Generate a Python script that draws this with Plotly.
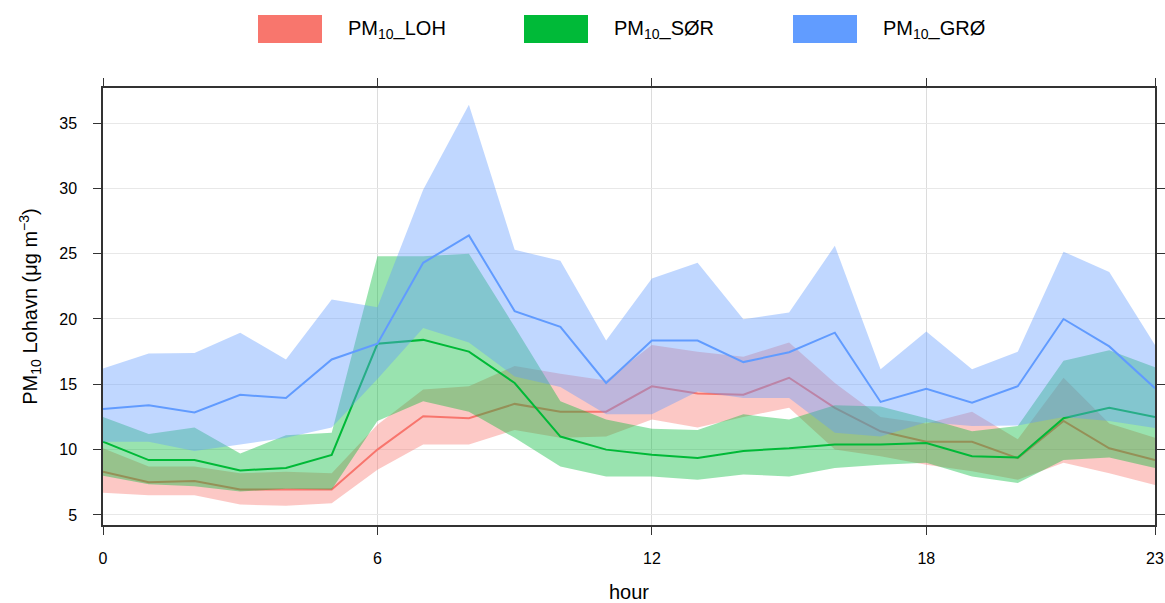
import plotly.graph_objects as go

# Hour of day
hours = list(range(24))

# PM10 at Lohavn: mean with lower/upper confidence limits
loh_mean = [8.3, 7.5, 7.6, 6.95, 6.95, 6.95, 10.0, 12.55, 12.4, 13.5, 12.9, 12.9,
            14.85, 14.3, 14.2, 15.5, 13.2, 11.4, 10.6, 10.6, 9.35, 12.2, 10.1, 9.2]
loh_upper = [10.1, 8.7, 8.7, 8.2, 8.3, 8.2, 11.9, 14.6, 14.85, 16.4, 15.8, 15.3,
             18.0, 17.5, 17.1, 18.2, 15.1, 12.5, 12.0, 12.9, 10.8, 15.5, 12.0, 10.9]
loh_lower = [6.7, 6.5, 6.5, 5.8, 5.7, 5.9, 8.45, 10.4, 10.4, 11.5, 10.9, 11.0,
             12.3, 11.7, 12.5, 13.2, 10.0, 9.5, 8.85, 8.35, 7.7, 9.0, 8.2, 7.3]

# PM10 at SØR
sor_mean = [10.6, 9.2, 9.2, 8.4, 8.6, 9.6, 18.1, 18.4, 17.5, 15.1, 11.0, 10.0,
            9.6, 9.35, 9.9, 10.1, 10.4, 10.4, 10.5, 9.5, 9.4, 12.4, 13.2, 12.5]
sor_upper = [12.5, 11.2, 11.7, 9.7, 11.1, 11.3, 24.8, 24.8, 25.0, 19.4, 13.7, 12.3,
             11.6, 11.5, 12.7, 12.3, 13.4, 13.3, 12.4, 11.4, 11.8, 16.8, 17.6, 16.3]
sor_lower = [8.0, 7.35, 7.2, 6.8, 7.0, 6.95, 12.2, 13.7, 12.9, 10.9, 8.7, 7.95,
             7.95, 7.7, 8.1, 7.95, 8.6, 8.85, 9.0, 7.95, 7.45, 9.2, 9.4, 8.6]

# PM10 at GRØ
gro_mean = [13.1, 13.4, 12.85, 14.2, 13.95, 16.9, 18.1, 24.3, 26.4, 20.6, 19.4, 15.1,
            18.35, 18.35, 16.7, 17.45, 18.95, 13.65, 14.65, 13.6, 14.85, 20.0, 17.9, 14.7]
gro_upper = [16.2, 17.35, 17.4, 18.95, 16.9, 21.5, 20.9, 29.9, 36.4, 25.3, 24.45, 18.35,
             23.1, 24.3, 19.97, 20.5, 25.6, 16.15, 19.05, 16.15, 17.5, 25.15, 23.6, 18.0]
gro_lower = [10.6, 10.6, 9.9, 10.4, 10.9, 11.7, 15.4, 19.3, 18.2, 15.6, 14.8, 12.7,
             12.7, 14.45, 13.95, 13.95, 11.3, 11.0, 12.1, 11.8, 11.85, 12.5, 12.2, 11.65]

series_names = ["PM<sub>10</sub>_LOH", "PM<sub>10</sub>_SØR", "PM<sub>10</sub>_GRØ"]
series_colors = ["#F8766D", "#00BA38", "#619CFF"]
band_colors = ["rgba(248,118,109,0.4)", "rgba(0,186,56,0.4)", "rgba(97,156,255,0.4)"]

x_ticks = [0, 6, 12, 18, 23]
y_ticks = [5, 10, 15, 20, 25, 30, 35]

FONT = "Liberation Sans, Arial"

fig = go.Figure()

series = [
    (loh_mean, loh_lower, loh_upper),
    (sor_mean, sor_lower, sor_upper),
    (gro_mean, gro_lower, gro_upper),
]

for (mean, lower, upper), col, band in zip(series, series_colors, band_colors):
    fig.add_trace(go.Scatter(
        x=hours, y=mean, mode="lines",
        line=dict(color=col, width=2),
        hoverinfo="skip", showlegend=False,
    ))
    fig.add_trace(go.Scatter(
        x=hours + hours[::-1], y=upper + lower[::-1],
        mode="none", fill="toself", fillcolor=band,
        hoverinfo="skip", showlegend=False,
    ))

# Plot-area geometry in pixels; the legend keys are placed relative to it
PLOT_L, PLOT_W, PLOT_T, PLOT_H = 103, 1052, 88, 437
PLOT_B = PLOT_T + PLOT_H

legend_x = [258, 524, 793]
for lx, col, name in zip(legend_x, series_colors, series_names):
    fig.add_shape(type="rect", xref="paper", yref="paper",
                  x0=(lx - PLOT_L) / PLOT_W, x1=(lx + 64 - PLOT_L) / PLOT_W,
                  y0=(PLOT_B - 43) / PLOT_H, y1=(PLOT_B - 15) / PLOT_H,
                  fillcolor=col, line=dict(width=0))
    fig.add_annotation(xref="paper", yref="paper",
                       x=(lx + 88 - PLOT_L) / PLOT_W, y=(PLOT_B - 29) / PLOT_H,
                       text=name, showarrow=False, xanchor="left", yanchor="middle",
                       font=dict(family=FONT, size=20, color="#000000"))

axis_common = dict(
    showline=True, linecolor="#333333", linewidth=1.5, mirror="ticks",
    ticks="outside", ticklen=8, tickwidth=1.2, tickcolor="#333333",
    zeroline=False, automargin=False,
    tickfont=dict(family=FONT, size=16, color="#000000"),
)

fig.update_xaxes(
    range=[0, 23], tickvals=x_ticks, ticktext=[str(v) for v in x_ticks],
    showgrid=True, gridcolor="#dcdcdc", gridwidth=1,
    ticklabelstandoff=10,
    title=dict(text="hour", font=dict(family=FONT, size=20, color="#000000"),
               standoff=24),
    **axis_common,
)
fig.update_yaxes(
    range=[4.23, 37.68], tickvals=y_ticks, ticktext=[str(v) for v in y_ticks],
    showgrid=True, gridcolor="#e8e8e8", gridwidth=1,
    ticklabelstandoff=13,
    title=dict(text="PM<sub>10</sub> Lohavn (μg m<sup>−3</sup>)",
               font=dict(family=FONT, size=20, color="#000000"),
               standoff=16),
    **axis_common,
)

fig.update_layout(
    width=1165, height=603,
    margin=dict(l=PLOT_L, r=1165 - PLOT_L - PLOT_W, t=PLOT_T, b=603 - PLOT_B),
    paper_bgcolor="white", plot_bgcolor="white",
    showlegend=False,
)

fig.write_html("out.html")
